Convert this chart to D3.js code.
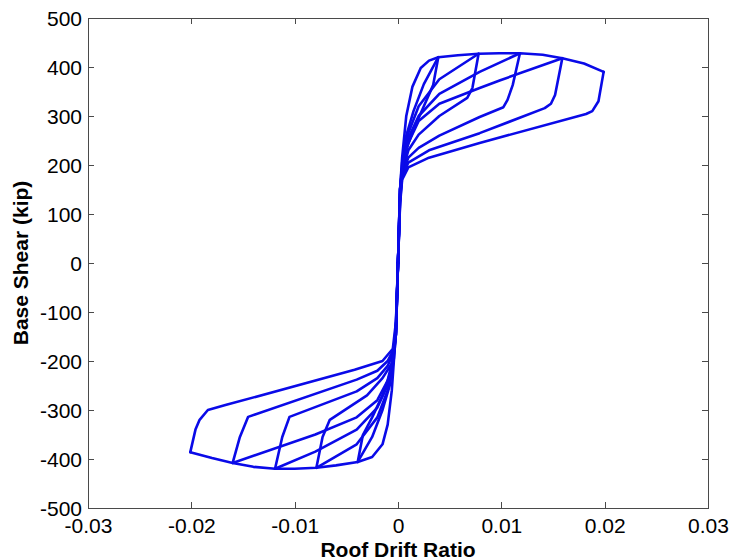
<!DOCTYPE html>
<html>
<head>
<meta charset="utf-8">
<script src="https://cdn.jsdelivr.net/npm/d3@7"></script>
<style>
  html, body { margin: 0; padding: 0; background: #fff; }
  svg { display: block; }
  text { font-family: "Liberation Sans", Arial, Helvetica, sans-serif; fill: #000; }
</style>
</head>
<body>
<svg id="chart" width="733" height="560"></svg>
<script>
// ---- tick values and labels ----
const xTicks = [-0.03, -0.02, -0.01, 0, 0.01, 0.02, 0.03];
const xTickLabels = ["-0.03", "-0.02", "-0.01", "0", "0.01", "0.02", "0.03"];
const yTicks = [-500, -400, -300, -200, -100, 0, 100, 200, 300, 400, 500];
const yTickLabels = ["-500", "-400", "-300", "-200", "-100", "0", "100", "200", "300", "400", "500"];
const xTitle = "Roof Drift Ratio";
const yTitle = "Base Shear (kip)";

// ---- hysteresis branches: [roof drift ratio, base shear (kip)] ----
const loadPos1 = [[0,0],[0.0001,80],[0.0002,150],[0.0004,215],[0.0008,300],[0.0014,360],[0.0022,398],[0.003,413],[0.0039,420]];
const unloadPos1 = [[0.0039,420],[0.0034,363],[0.0025,320],[0.0015,272],[0.0008,232],[0.0004,192],[0.0002,140],[0,0]];
const loadNeg1 = [[0,0],[-0.0001,-80],[-0.0002,-140],[-0.0004,-200],[-0.0006,-260],[-0.001,-330],[-0.0015,-370],[-0.0025,-396],[-0.0039,-406]];
const unloadNeg1 = [[-0.0039,-406],[-0.0034,-351],[-0.0025,-315],[-0.0015,-270],[-0.0006,-215],[-0.0002,-140],[0,0]];

const loadPos2 = [[0,0],[0.0002,150],[0.0004,205],[0.0008,260],[0.0015,310],[0.0025,365],[0.0039,420],[0.0058,424],[0.0078,427]];
const unloadPos2 = [[0.0078,427],[0.0072,357],[0.0067,337],[0.004,300],[0.002,262],[0.001,230],[0.0004,185],[0.0002,135],[0,0]];
const loadNeg2 = [[0,0],[-0.0002,-145],[-0.0004,-195],[-0.0008,-250],[-0.0015,-300],[-0.0025,-355],[-0.0039,-406],[-0.006,-413],[-0.0079,-418]];
const unloadNeg2 = [[-0.0079,-418],[-0.0073,-355],[-0.0066,-320],[-0.003,-270],[-0.0015,-235],[-0.0006,-205],[-0.0002,-135],[0,0]];

const loadPos3 = [[0,0],[0.0002,150],[0.0005,210],[0.001,265],[0.002,320],[0.004,375],[0.0078,427],[0.0098,428],[0.0118,428]];
const unloadPos3 = [[0.0118,428],[0.0111,363],[0.0106,333],[0.0102,318],[0.0079,298],[0.004,260],[0.002,235],[0.001,215],[0.0004,180],[0.0002,130],[0,0]];
const loadNeg3 = [[0,0],[-0.0002,-145],[-0.0005,-205],[-0.001,-260],[-0.002,-315],[-0.004,-370],[-0.0079,-418],[-0.01,-420],[-0.0119,-420]];
const unloadNeg3 = [[-0.0119,-420],[-0.0112,-355],[-0.0105,-314],[-0.004,-262],[-0.002,-235],[-0.001,-210],[-0.0004,-180],[-0.0002,-130],[0,0]];

const loadPos4 = [[0,0],[0.0002,150],[0.0005,210],[0.001,255],[0.002,300],[0.004,345],[0.0079,390],[0.0118,428],[0.014,425],[0.0159,418]];
const unloadPos4 = [[0.0159,418],[0.0152,343],[0.0148,325],[0.0142,316],[0.0079,265],[0.003,230],[0.001,205],[0.0004,175],[0.0002,125],[0,0]];
const loadNeg4 = [[0,0],[-0.0002,-145],[-0.0005,-200],[-0.001,-250],[-0.002,-295],[-0.004,-340],[-0.008,-385],[-0.0119,-420],[-0.014,-416],[-0.016,-408]];
const unloadNeg4 = [[-0.016,-408],[-0.0153,-355],[-0.0145,-314],[-0.004,-238],[-0.002,-220],[-0.001,-200],[-0.0004,-175],[-0.0002,-125],[0,0]];

const loadPos5 = [[0,0],[0.0002,150],[0.0005,205],[0.001,245],[0.002,290],[0.004,325],[0.0079,357],[0.0099,373],[0.0159,418],[0.018,407],[0.0199,390]];
const unloadPos5 = [[0.0199,390],[0.0194,330],[0.0188,310],[0.0182,304],[0.0079,245],[0.003,215],[0.001,195],[0.0004,170],[0.0002,120],[0,0]];
const loadNeg5 = [[0,0],[-0.0002,-145],[-0.0005,-195],[-0.001,-240],[-0.002,-280],[-0.004,-315],[-0.008,-350],[-0.016,-408],[-0.018,-398],[-0.0201,-386]];
const unloadNeg5 = [[-0.0201,-386],[-0.0196,-340],[-0.0192,-320],[-0.0184,-300],[-0.0167,-290],[-0.0042,-218],[-0.0015,-200],[-0.0005,-175],[-0.0002,-120],[0,0]];

// full loading history in order
const loadHistory = [
  loadPos1, unloadPos1, loadNeg1, unloadNeg1,
  loadPos2, unloadPos2, loadNeg2, unloadNeg2,
  loadPos3, unloadPos3, loadNeg3, unloadNeg3,
  loadPos4, unloadPos4, loadNeg4, unloadNeg4,
  loadPos5, unloadPos5, loadNeg5, unloadNeg5
];

// ---- drawing ----
const svg = d3.select("#chart");
const mLeft = 88, mRight = 708, mTop = 18, mBottom = 508;

const x = d3.scaleLinear().domain([-0.03, 0.03]).range([mLeft, mRight]);
const y = d3.scaleLinear().domain([-500, 500]).range([mBottom, mTop]);

const axisColor = "#4a4a4a";
const tickLen = 6;

// box
svg.append("rect")
  .attr("x", mLeft).attr("y", mTop)
  .attr("width", mRight - mLeft).attr("height", mBottom - mTop)
  .attr("fill", "none").attr("stroke", axisColor).attr("stroke-width", 1)
  .attr("shape-rendering", "crispEdges");

function styleAxis(g) {
  g.select(".domain").remove();
  g.selectAll(".tick line").attr("stroke", axisColor).attr("shape-rendering", "crispEdges");
  g.selectAll(".tick text").attr("fill", "#000")
    .style("font-size", "21px")
    .style("font-family", "'Liberation Sans', Arial, sans-serif");
}

// bottom axis: inward ticks, labels below
const xAxisBottom = d3.axisBottom(x).tickValues(xTicks)
  .tickFormat((d, i) => xTickLabels[i]).tickSizeInner(-tickLen).tickSizeOuter(0).tickPadding(12);
svg.append("g").attr("transform", `translate(0,${mBottom})`).call(xAxisBottom).call(styleAxis)
  .selectAll(".tick text").attr("dy", "0").attr("y", 25);

// top axis: inward ticks, no labels
const xAxisTop = d3.axisTop(x).tickValues(xTicks).tickFormat("").tickSizeInner(-tickLen).tickSizeOuter(0);
svg.append("g").attr("transform", `translate(0,${mTop})`).call(xAxisTop).call(styleAxis);

// left axis
const yAxisLeft = d3.axisLeft(y).tickValues(yTicks)
  .tickFormat((d, i) => yTickLabels[i]).tickSizeInner(-tickLen).tickSizeOuter(0).tickPadding(12);
svg.append("g").attr("transform", `translate(${mLeft},0)`).call(yAxisLeft).call(styleAxis)
  .selectAll(".tick text").attr("x", -6).attr("dy", "0.35em");

// right axis
const yAxisRight = d3.axisRight(y).tickValues(yTicks).tickFormat("").tickSizeInner(-tickLen).tickSizeOuter(0);
svg.append("g").attr("transform", `translate(${mRight},0)`).call(yAxisRight).call(styleAxis);

// curve
const line = d3.line().x(d => x(d[0])).y(d => y(d[1])).curve(d3.curveLinear);
svg.append("g").selectAll("path.branch")
  .data(loadHistory)
  .join("path")
  .attr("class", "branch")
  .attr("d", line)
  .attr("fill", "none")
  .attr("stroke", "#0a0ae8")
  .attr("stroke-width", 2.6)
  .attr("stroke-linejoin", "round")
  .attr("stroke-linecap", "round");

// axis titles
svg.append("text")
  .attr("x", (mLeft + mRight) / 2).attr("y", 557)
  .attr("text-anchor", "middle")
  .style("font-size", "21px").style("font-weight", "bold")
  .text(xTitle);

svg.append("text")
  .attr("transform", `translate(28,${(mTop + mBottom) / 2}) rotate(-90)`)
  .attr("text-anchor", "middle")
  .style("font-size", "21px").style("font-weight", "bold")
  .text(yTitle);
</script>
</body>
</html>
